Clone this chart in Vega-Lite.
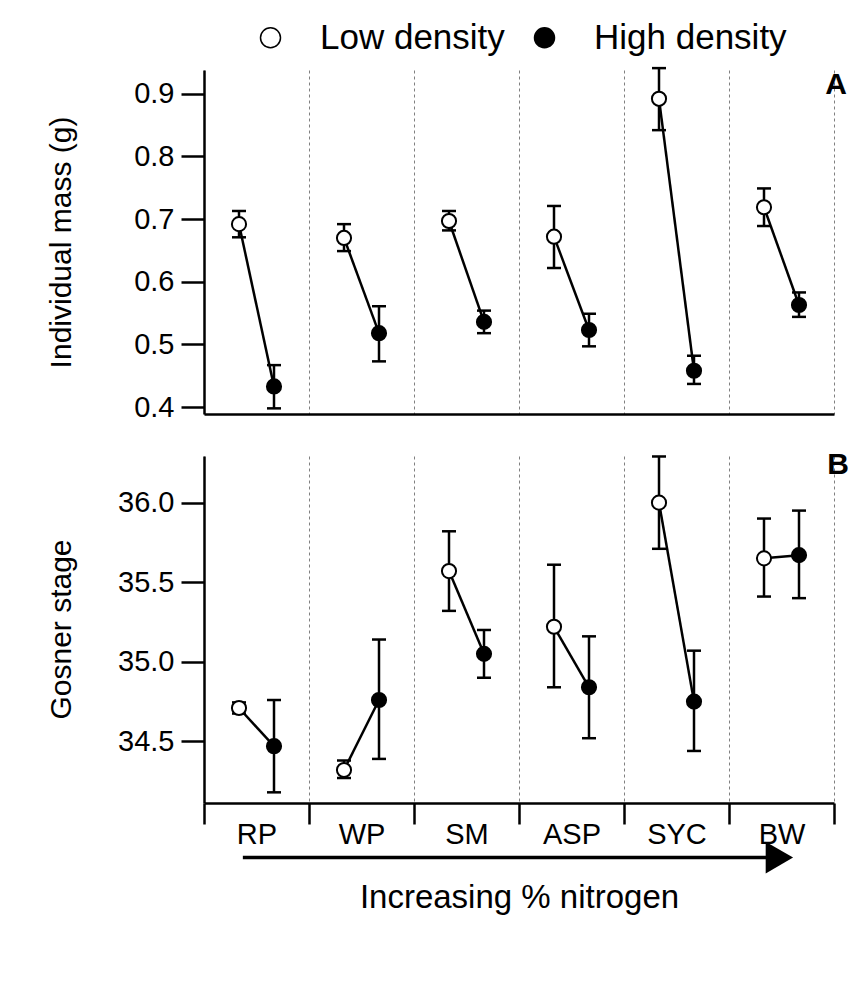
{
  "$schema": "https://vega.github.io/schema/vega-lite/v6.json",
  "background": "white",
  "padding": {"left": 45, "top": 20, "right": 5, "bottom": 5},
  "config": {
    "font": "Liberation Sans",
    "view": {"stroke": null},
    "axis": {"domainColor": "black", "domainWidth": 2.5, "tickColor": "black", "tickWidth": 2.5, "labelColor": "black", "titleColor": "black", "labelFont": "Liberation Sans", "titleFont": "Liberation Sans", "titleFontWeight": "normal"}
  },
  "datasets": {
    "d": [
      {"species": "RP", "density": "Low density", "mass": 0.692, "mass_lo": 0.671, "mass_hi": 0.713, "stage": 34.71, "stage_lo": 34.675, "stage_hi": 34.745},
      {"species": "RP", "density": "High density", "mass": 0.433, "mass_lo": 0.398, "mass_hi": 0.467, "stage": 34.47, "stage_lo": 34.18, "stage_hi": 34.76},
      {"species": "WP", "density": "Low density", "mass": 0.670, "mass_lo": 0.649, "mass_hi": 0.692, "stage": 34.32, "stage_lo": 34.27, "stage_hi": 34.38},
      {"species": "WP", "density": "High density", "mass": 0.518, "mass_lo": 0.473, "mass_hi": 0.561, "stage": 34.76, "stage_lo": 34.39, "stage_hi": 35.14},
      {"species": "SM", "density": "Low density", "mass": 0.697, "mass_lo": 0.682, "mass_hi": 0.713, "stage": 35.57, "stage_lo": 35.32, "stage_hi": 35.82},
      {"species": "SM", "density": "High density", "mass": 0.536, "mass_lo": 0.518, "mass_hi": 0.554, "stage": 35.05, "stage_lo": 34.90, "stage_hi": 35.20},
      {"species": "ASP", "density": "Low density", "mass": 0.672, "mass_lo": 0.622, "mass_hi": 0.721, "stage": 35.22, "stage_lo": 34.84, "stage_hi": 35.61},
      {"species": "ASP", "density": "High density", "mass": 0.523, "mass_lo": 0.497, "mass_hi": 0.549, "stage": 34.84, "stage_lo": 34.52, "stage_hi": 35.16},
      {"species": "SYC", "density": "Low density", "mass": 0.892, "mass_lo": 0.842, "mass_hi": 0.941, "stage": 36.00, "stage_lo": 35.71, "stage_hi": 36.29},
      {"species": "SYC", "density": "High density", "mass": 0.458, "mass_lo": 0.437, "mass_hi": 0.482, "stage": 34.75, "stage_lo": 34.44, "stage_hi": 35.07},
      {"species": "BW", "density": "Low density", "mass": 0.719, "mass_lo": 0.689, "mass_hi": 0.749, "stage": 35.65, "stage_lo": 35.41, "stage_hi": 35.90},
      {"species": "BW", "density": "High density", "mass": 0.563, "mass_lo": 0.544, "mass_hi": 0.583, "stage": 35.67, "stage_lo": 35.40, "stage_hi": 35.95}
    ]
  },
  "spacing": 27,
  "resolve": {"legend": {"fill": "independent"}},
  "vconcat": [
    {
      "width": 630,
      "height": 344,
      "data": {"name": "d"},
      "layer": [
        {
          "mark": {"type": "line", "color": "black", "strokeWidth": 2.5},
          "encoding": {
            "x": {"field": "species", "type": "nominal", "sort": ["RP", "WP", "SM", "ASP", "SYC", "BW"], "scale": {"domain": ["RP", "WP", "SM", "ASP", "SYC", "BW"], "paddingInner": 0, "paddingOuter": 0}, "axis": {"title": null, "labels": false, "ticks": false, "tickBand": "extent", "grid": true, "gridDash": [3, 3], "gridColor": "#808080", "gridWidth": 1}},
            "xOffset": {"field": "density", "type": "nominal", "scale": {"type": "point", "domain": ["Low density", "High density"], "padding": 1}},
            "y": {"field": "mass", "type": "quantitative", "scale": {"domain": [0.389, 0.938], "nice": false, "zero": false}, "axis": {"title": "Individual mass (g)", "values": [0.4, 0.5, 0.6, 0.7, 0.8, 0.9], "format": ".1f", "tickSize": 23, "labelPadding": 7, "labelFontSize": 29, "titleFontSize": 30, "titleX": -128, "titleY": 172, "grid": false}},
            "detail": {"field": "species"}
          }
        },
        {
          "mark": {"type": "rule", "color": "black", "strokeWidth": 2.5},
          "encoding": {
            "x": {"field": "species", "type": "nominal", "sort": ["RP", "WP", "SM", "ASP", "SYC", "BW"]},
            "xOffset": {"field": "density", "type": "nominal"},
            "y": {"field": "mass_lo", "type": "quantitative"},
            "y2": {"field": "mass_hi"}
          }
        },
        {
          "mark": {"type": "tick", "color": "black", "opacity": 1, "thickness": 2.5, "size": 14, "orient": "horizontal"},
          "encoding": {
            "x": {"field": "species", "type": "nominal", "sort": ["RP", "WP", "SM", "ASP", "SYC", "BW"]},
            "xOffset": {"field": "density", "type": "nominal"},
            "y": {"field": "mass_lo", "type": "quantitative"}
          }
        },
        {
          "mark": {"type": "tick", "color": "black", "opacity": 1, "thickness": 2.5, "size": 14, "orient": "horizontal"},
          "encoding": {
            "x": {"field": "species", "type": "nominal", "sort": ["RP", "WP", "SM", "ASP", "SYC", "BW"]},
            "xOffset": {"field": "density", "type": "nominal"},
            "y": {"field": "mass_hi", "type": "quantitative"}
          }
        },
        {
          "mark": {"type": "point", "shape": "circle", "filled": true, "size": 200, "stroke": "black", "strokeWidth": 2, "opacity": 1},
          "encoding": {
            "x": {"field": "species", "type": "nominal", "sort": ["RP", "WP", "SM", "ASP", "SYC", "BW"]},
            "xOffset": {"field": "density", "type": "nominal"},
            "y": {"field": "mass", "type": "quantitative"},
            "fill": {"field": "density", "type": "nominal", "scale": {"domain": ["Low density", "High density"], "range": ["white", "black"]}, "legend": {"title": null, "orient": "none", "direction": "horizontal", "legendX": 49, "legendY": -50, "symbolType": "circle", "symbolSize": 400, "symbolStrokeColor": "black", "symbolStrokeWidth": 1.5, "labelFontSize": 35, "labelLimit": 0, "labelOffset": 32, "columnPadding": 22, "labelColor": "black", "labelFont": "Liberation Sans"}}
          }
        },
        {
          "data": {"values": [{"panel": "A"}]},
          "mark": {"type": "text", "fontSize": 30, "fontWeight": "bold", "color": "black", "align": "center", "baseline": "top", "dx": 2, "dy": 0},
          "encoding": {
            "x": {"datum": "BW", "bandPosition": 1},
            "y": {"datum": 0.938},
            "text": {"field": "panel"}
          }
        }
      ]
    },
    {
      "width": 630,
      "height": 347,
      "data": {"name": "d"},
      "layer": [
        {
          "mark": {"type": "line", "color": "black", "strokeWidth": 2.5},
          "encoding": {
            "x": {"field": "species", "type": "nominal", "sort": ["RP", "WP", "SM", "ASP", "SYC", "BW"], "scale": {"domain": ["RP", "WP", "SM", "ASP", "SYC", "BW"], "paddingInner": 0, "paddingOuter": 0}, "axis": {"title": "Increasing % nitrogen", "titleFontSize": 33, "titlePadding": 32, "labelFontSize": 29, "labelAngle": 0, "labelPadding": -4, "ticks": true, "tickSize": 21, "tickBand": "extent", "grid": true, "gridDash": [3, 3], "gridColor": "#808080", "gridWidth": 1}},
            "xOffset": {"field": "density", "type": "nominal", "scale": {"type": "point", "domain": ["Low density", "High density"], "padding": 1}},
            "y": {"field": "stage", "type": "quantitative", "scale": {"domain": [34.113, 36.293], "nice": false, "zero": false}, "axis": {"title": "Gosner stage", "values": [34.5, 35.0, 35.5, 36.0], "format": ".1f", "tickSize": 23, "labelPadding": 7, "labelFontSize": 29, "titleFontSize": 30, "titleX": -128, "titleY": 173, "grid": false}},
            "detail": {"field": "species"}
          }
        },
        {
          "mark": {"type": "rule", "color": "black", "strokeWidth": 2.5},
          "encoding": {
            "x": {"field": "species", "type": "nominal", "sort": ["RP", "WP", "SM", "ASP", "SYC", "BW"]},
            "xOffset": {"field": "density", "type": "nominal"},
            "y": {"field": "stage_lo", "type": "quantitative"},
            "y2": {"field": "stage_hi"}
          }
        },
        {
          "mark": {"type": "tick", "color": "black", "opacity": 1, "thickness": 2.5, "size": 14, "orient": "horizontal"},
          "encoding": {
            "x": {"field": "species", "type": "nominal", "sort": ["RP", "WP", "SM", "ASP", "SYC", "BW"]},
            "xOffset": {"field": "density", "type": "nominal"},
            "y": {"field": "stage_lo", "type": "quantitative"}
          }
        },
        {
          "mark": {"type": "tick", "color": "black", "opacity": 1, "thickness": 2.5, "size": 14, "orient": "horizontal"},
          "encoding": {
            "x": {"field": "species", "type": "nominal", "sort": ["RP", "WP", "SM", "ASP", "SYC", "BW"]},
            "xOffset": {"field": "density", "type": "nominal"},
            "y": {"field": "stage_hi", "type": "quantitative"}
          }
        },
        {
          "mark": {"type": "point", "shape": "circle", "filled": true, "size": 200, "stroke": "black", "strokeWidth": 2, "opacity": 1},
          "encoding": {
            "x": {"field": "species", "type": "nominal", "sort": ["RP", "WP", "SM", "ASP", "SYC", "BW"]},
            "xOffset": {"field": "density", "type": "nominal"},
            "y": {"field": "stage", "type": "quantitative"},
            "fill": {"field": "density", "type": "nominal", "scale": {"domain": ["Low density", "High density"], "range": ["white", "black"]}, "legend": null}
          }
        },
        {
          "data": {"values": [{"panel": "B"}]},
          "mark": {"type": "text", "fontSize": 30, "fontWeight": "bold", "color": "black", "align": "center", "baseline": "top", "dx": 4, "dy": -6},
          "encoding": {
            "x": {"datum": "BW", "bandPosition": 1},
            "y": {"datum": 36.293},
            "text": {"field": "panel"}
          }
        },
        {
          "data": {"values": [{"from": "RP", "to": "BW", "level": 33.77}]},
          "mark": {"type": "rule", "color": "black", "strokeWidth": 3.5},
          "encoding": {
            "x": {"field": "from", "type": "nominal", "bandPosition": 0.37},
            "x2": {"field": "to"},
            "y": {"field": "level", "type": "quantitative"}
          }
        },
        {
          "data": {"values": [{"to": "BW", "level": 33.77}]},
          "mark": {"type": "point", "shape": "triangle-right", "filled": true, "size": 1000, "color": "black", "opacity": 1},
          "encoding": {
            "x": {"field": "to", "type": "nominal", "bandPosition": 0.48},
            "y": {"field": "level", "type": "quantitative"}
          }
        }
      ]
    }
  ]
}
